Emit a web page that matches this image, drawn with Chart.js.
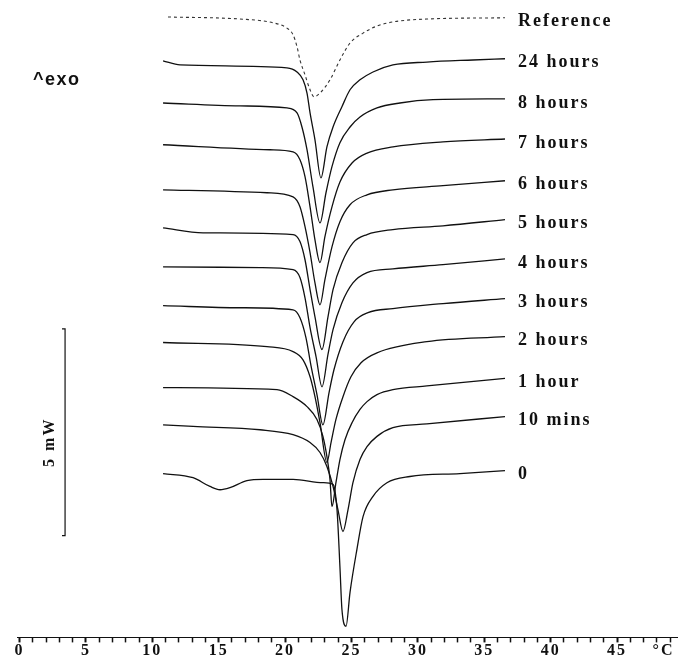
<!DOCTYPE html>
<html lang="en">
<head>
    <meta charset="UTF-8">
    <title>DSC thermograms</title>
    <script src="https://cdn.jsdelivr.net/npm/chart.js"></script>
    <style>
        body { margin: 0; background: #fff; }
    </style>
</head>
<body>
    <canvas id="myChart" width="678" height="660"></canvas>
    <script>
        // [temperature °C, heat flow mW]
        const reference = [[11.18,15.00],[16.60,14.95],[19.09,14.86],[20.14,14.73],[20.60,14.57],[20.90,14.28],[21.12,13.96],[21.50,13.60],[21.88,13.24],[22.18,13.07],[22.63,13.16],[23.38,13.48],[24.13,13.96],[24.89,14.37],[25.87,14.61],[26.92,14.78],[28.12,14.88],[30.68,14.95],[36.56,14.98]];
        const hours24 = [[10.81,13.94],[12.09,13.84],[20.14,13.77],[20.90,13.67],[21.35,13.48],[21.65,13.16],[21.88,12.68],[22.25,12.03],[22.70,11.11],[23.15,11.86],[23.61,12.34],[24.28,12.83],[24.89,13.24],[25.64,13.48],[26.62,13.67],[28.12,13.84],[30.68,13.91],[34.15,13.96],[36.56,13.99]];
        const hours8 = [[10.81,12.92],[16.60,12.85],[20.14,12.80],[20.90,12.68],[21.27,12.34],[21.65,11.79],[22.10,10.89],[22.63,10.02],[23.08,10.75],[23.53,11.38],[24.13,11.96],[24.89,12.34],[25.64,12.58],[26.92,12.80],[28.65,12.92],[31.14,13.00],[36.56,13.02]];
        const hours7 = [[10.81,11.91],[18.86,11.79],[20.60,11.74],[21.12,11.55],[21.50,11.14],[21.88,10.41],[22.25,9.61],[22.63,9.06],[23.00,9.69],[23.53,10.41],[24.13,11.01],[25.04,11.47],[26.17,11.71],[28.12,11.86],[31.89,11.98],[36.56,12.05]];
        const hours6 = [[10.81,10.82],[18.64,10.75],[20.60,10.65],[21.12,10.41],[21.50,9.93],[21.88,9.30],[22.25,8.57],[22.63,8.04],[23.00,8.65],[23.53,9.44],[24.13,10.05],[24.89,10.46],[26.17,10.70],[28.12,10.82],[31.89,10.92],[36.56,11.04]];
        const hours5 = [[10.81,9.90],[13.82,9.78],[20.60,9.74],[21.12,9.57],[21.50,9.13],[21.88,8.41],[22.25,7.75],[22.78,6.96],[23.23,7.75],[23.61,8.41],[24.28,9.06],[25.11,9.54],[26.17,9.74],[28.12,9.86],[31.89,9.95],[36.56,10.10]];
        const hours4 = [[10.81,8.96],[18.11,8.94],[20.60,8.89],[21.12,8.70],[21.50,8.21],[21.88,7.49],[22.33,6.79],[22.78,6.06],[23.23,6.84],[23.61,7.44],[24.28,8.09],[25.11,8.57],[26.17,8.82],[28.12,8.91],[31.89,9.01],[36.56,9.15]];
        const hours3 = [[10.81,8.02],[16.60,7.97],[20.60,7.92],[21.12,7.73],[21.57,7.25],[21.95,6.57],[22.40,5.87],[22.85,5.14],[23.31,5.92],[23.68,6.47],[24.36,7.15],[25.19,7.63],[26.24,7.85],[28.12,7.95],[31.89,8.07],[36.56,8.19]];
        const hours2 = [[10.81,7.13],[18.64,7.03],[20.60,6.91],[21.35,6.71],[21.88,6.30],[22.25,5.82],[22.63,5.19],[23.15,4.23],[23.46,4.71],[23.83,5.27],[24.36,5.82],[24.96,6.30],[25.72,6.64],[26.92,6.88],[30.68,7.15],[36.56,7.27]];
        const hour1 = [[10.81,6.04],[19.39,5.99],[20.60,5.82],[21.65,5.58],[22.40,5.27],[22.85,4.86],[23.15,4.37],[23.38,3.82],[23.53,3.16],[23.83,3.74],[24.13,4.30],[24.51,4.78],[25.04,5.19],[25.64,5.51],[26.17,5.70],[26.92,5.87],[28.12,5.99],[30.68,6.08],[36.56,6.26]];
        const mins10 = [[10.81,5.14],[13.07,5.10],[18.11,5.02],[20.60,4.90],[21.88,4.71],[22.63,4.47],[23.15,4.13],[23.61,3.65],[23.98,3.09],[24.36,2.56],[24.74,3.09],[25.11,3.74],[25.64,4.30],[26.17,4.61],[26.92,4.86],[28.12,5.07],[30.68,5.16],[36.56,5.34]];
        const zero = [[10.81,3.96],[13.07,3.86],[14.34,3.65],[15.10,3.57],[15.85,3.62],[17.13,3.79],[18.34,3.82],[20.60,3.82],[22.85,3.74],[23.61,3.70],[23.91,3.09],[24.13,1.71],[24.28,0.68],[24.59,0.27],[24.89,1.09],[25.41,2.13],[25.87,2.92],[26.62,3.41],[27.67,3.74],[29.40,3.89],[33.17,3.96],[36.56,4.03]];

        const curveNames = ['Reference', '24 hours', '8 hours', '7 hours', '6 hours', '5 hours', '4 hours', '3 hours', '2 hours', '1 hour', '10 mins', '0'];
        const curves = [reference, hours24, hours8, hours7, hours6, hours5, hours4, hours3, hours2, hour1, mins10, zero];

        // 5 mW scale bar
        const scaleBar = [[3.20,7.46],[3.43,7.46],[3.43,2.46],[3.20,2.46]];
        const scaleBarLabel = '5 mW';
        const exoLabel = '^exo';

        const tickLabels = ['0', '5', '10', '15', '20', '25', '30', '35', '40', '45'];
        const unitLabel = '°C';
        const unitPos = 48.5;

        const toXY = arr => arr.map(([x, y]) => ({ x, y }));

        const tickValues = [];
        for (let v = 0; v <= 49; v++) {
            tickValues.push(v);
            if (v === 48) tickValues.push(unitPos);
        }

        const datasets = curves.map((c, i) => ({
            label: curveNames[i],
            data: toXY(c),
            borderColor: i === 0 ? '#333' : '#111',
            borderWidth: i === 0 ? 1.1 : 1.3,
            borderDash: i === 0 ? [3, 3] : [],
            pointRadius: 0,
            cubicInterpolationMode: 'monotone',
            fill: false
        }));
        datasets.push({
            label: '',
            data: toXY(scaleBar),
            borderColor: '#111',
            borderWidth: 1.2,
            pointRadius: 0,
            fill: false
        });

        const serif = '"Liberation Serif", "Times New Roman", serif';

        const textPlugin = {
            id: 'textPlugin',
            beforeDraw(chart) {
                chart.ctx.letterSpacing = '2px';
            },
            afterDatasetsDraw(chart) {
                const ctx = chart.ctx;
                ctx.save();
                ctx.fillStyle = '#111';
                ctx.textBaseline = 'middle';
                ctx.textAlign = 'left';
                ctx.font = 'bold 18px ' + serif;
                ctx.letterSpacing = '2px';
                chart.data.datasets.forEach((ds, i) => {
                    if (!ds.label) return;
                    const pts = chart.getDatasetMeta(i).data;
                    const last = pts[pts.length - 1];
                    ctx.fillText(ds.label, last.x + 13, last.y + 4);
                });

                ctx.font = 'bold 18px "Liberation Sans", Arial, sans-serif';
                ctx.letterSpacing = '1.5px';
                ctx.fillText(exoLabel, 33, 80);

                // scale bar caption, rotated
                const bar = chart.getDatasetMeta(datasets.length - 1).data;
                const midY = (bar[1].y + bar[2].y) / 2;
                ctx.translate(bar[1].x - 15, midY + 10);
                ctx.rotate(-Math.PI / 2);
                ctx.textAlign = 'center';
                ctx.font = 'bold 16px ' + serif;
                ctx.letterSpacing = '2px';
                ctx.fillText(scaleBarLabel, 0, 0);
                ctx.restore();
            }
        };

        new Chart(document.getElementById('myChart').getContext('2d'), {
            type: 'line',
            data: { datasets },
            options: {
                responsive: false,
                animation: false,
                layout: { padding: { left: 17, right: 0, top: 0, bottom: 0 } },
                plugins: {
                    legend: { display: false },
                    tooltip: { enabled: false }
                },
                scales: {
                    x: {
                        type: 'linear',
                        min: -0.19,
                        max: 49.59,
                        afterBuildTicks: scale => {
                            scale.ticks = tickValues.map(v => ({ value: v }));
                        },
                        ticks: {
                            autoSkip: false,
                            maxRotation: 0,
                            padding: 0,
                            color: '#111',
                            font: { family: serif, size: 16, weight: 'bold', lineHeight: 1.1 },
                            callback: value => {
                                if (value === unitPos) return unitLabel;
                                const s = String(value);
                                return tickLabels.includes(s) ? s : '';
                            }
                        },
                        grid: {
                            drawOnChartArea: false,
                            tickLength: 5,
                            tickColor: c => (c.tick && c.tick.value === unitPos) ? 'rgba(0,0,0,0)' : '#111',
                            tickWidth: c => (c.tick && c.tick.value % 5 === 0) ? 2 : 1.5
                        },
                        border: { display: true, color: '#111', width: 1 }
                    },
                    y: {
                        type: 'linear',
                        display: false,
                        min: 0,
                        max: 15.41
                    }
                }
            },
            plugins: [textPlugin]
        });
    </script>
</body>
</html>
